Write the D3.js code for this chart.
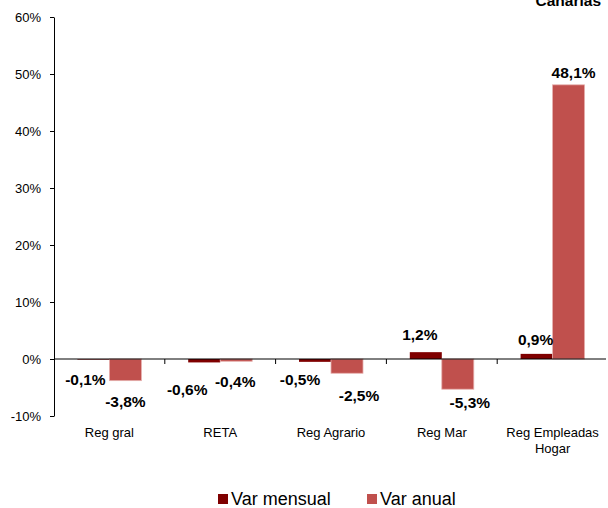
<!DOCTYPE html>
<html>
<head>
<meta charset="utf-8">
<script src="https://cdn.jsdelivr.net/npm/d3@7"></script>
<style>
  html, body { margin: 0; padding: 0; background: #fff; }
  svg { display: block; font-family: "Liberation Sans", Arial, sans-serif; }
</style>
</head>
<body>
<svg id="chart" width="608" height="508"></svg>
<script>
// ---- data ----
const title = "Canarias";
const categories = [["Reg gral"], ["RETA"], ["Reg Agrario"], ["Reg Mar"], ["Reg Empleadas", "Hogar"]];
const seriesNames = ["Var mensual", "Var anual"];
const varMensual = [-0.1, -0.6, -0.5, 1.2, 0.9];
const varAnual = [-3.8, -0.4, -2.5, -5.3, 48.1];
const yTicks = [-10, 0, 10, 20, 30, 40, 50, 60];
const seriesColors = ["#7f0000", "#c0504d"];

// ---- layout ----
const svg = d3.select("#chart");
const mLeft = 54, mRight = 608, mTop = 17, mBottom = 416;
const catIdx = categories.map((d, i) => i);

const x = d3.scaleBand().domain(catIdx).range([mLeft, mRight]).paddingInner(0).paddingOuter(0);
const barW = 32;
const xs = d3.scaleBand().domain([0, 1]).range([x.bandwidth() / 2 - barW, x.bandwidth() / 2 + barW]).padding(0);
const y = d3.scaleLinear().domain([-10, 60]).range([mBottom, mTop]);

const fmt = v => d3.format(".1f")(v).replace("\u2212", "-").replace(".", ",") + "%";

// y axis
const yAxis = svg.append("g")
  .attr("transform", `translate(${mLeft},0)`)
  .call(d3.axisLeft(y).tickValues(yTicks).tickFormat(d => d + "%").tickSize(4).tickSizeOuter(0).tickPadding(9));
yAxis.selectAll("text").attr("font-size", 13).attr("fill", "#000").attr("font-family", "Liberation Sans, Arial, sans-serif");
yAxis.selectAll("line, path").attr("stroke", "#000");

// bars
const series = [varMensual, varAnual];
series.forEach((vals, s) => {
  svg.append("g").selectAll("rect").data(vals).join("rect")
    .attr("x", (d, i) => x(i) + xs(s))
    .attr("width", xs.bandwidth())
    .attr("y", d => Math.min(y(d), y(0)))
    .attr("height", d => Math.abs(y(d) - y(0)))
    .attr("fill", seriesColors[s])
    .attr("stroke", s === 1 ? "#e6b0ae" : "none")
    .attr("stroke-width", s === 1 ? 0.8 : 0);
});

// x axis line at zero
svg.append("line")
  .attr("x1", mLeft).attr("x2", mRight - 2)
  .attr("y1", y(0)).attr("y2", y(0))
  .attr("stroke", "#000");
svg.append("g").selectAll("line").data(catIdx.slice(1)).join("line")
  .attr("x1", d => x(d)).attr("x2", d => x(d))
  .attr("y1", y(0)).attr("y2", y(0) + 5)
  .attr("stroke", "#000");

// category labels
const catG = svg.append("g").selectAll("text").data(categories).join("text")
  .attr("text-anchor", "middle")
  .attr("font-size", 13)
  .attr("fill", "#000")
  .attr("transform", (d, i) => `translate(${x(i) + x.bandwidth() / 2},437)`);
catG.selectAll("tspan").data(d => d).join("tspan")
  .attr("x", 0).attr("dy", (d, j) => j === 0 ? 0 : 16)
  .text(d => d);

// data labels (nudges mimic the reference's label placement)
const nudge = [
  [[-8, 25], [-17, 33], [-15, 23], [-6, -12], [-1, -9]],
  [[0, 26], [-1, 26], [12, 28], [12, 19], [5, -7]]
];
series.forEach((vals, s) => {
  svg.append("g").selectAll("text").data(vals).join("text")
    .attr("x", (d, i) => x(i) + xs(s) + xs.bandwidth() / 2 + nudge[s][i][0])
    .attr("y", (d, i) => y(d) + nudge[s][i][1])
    .attr("text-anchor", "middle")
    .attr("font-size", 15.5)
    .attr("font-weight", "bold")
    .attr("fill", "#000")
    .text(d => fmt(d));
});

// title (cut at top, as in the reference)
svg.append("text")
  .attr("x", 601).attr("y", 6)
  .attr("text-anchor", "end")
  .attr("font-size", 15.5)
  .attr("font-weight", "bold")
  .text(title);

// legend
const legendItems = [{ name: seriesNames[0], x: 218 }, { name: seriesNames[1], x: 367 }];
const lg = svg.append("g").selectAll("g").data(legendItems).join("g")
  .attr("transform", d => `translate(${d.x},494)`);
lg.append("rect").attr("width", 10).attr("height", 10).attr("fill", (d, i) => seriesColors[i]);
lg.append("text").attr("x", 13).attr("y", 11).attr("font-size", 18).attr("fill", "#000").text(d => d.name);
</script>
</body>
</html>
